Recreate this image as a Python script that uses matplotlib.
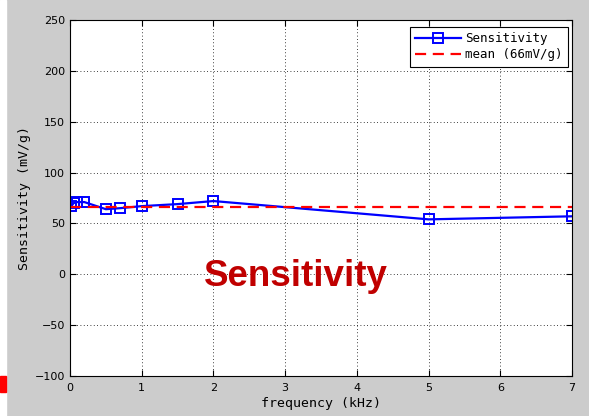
import matplotlib
matplotlib.use('Agg')
import matplotlib.pyplot as plt
from matplotlib.patches import Rectangle
import numpy as np

# data
freq = [0.02, 0.05, 0.1, 0.2, 0.5, 0.7, 1.0, 1.5, 2.0, 5.0, 7.0]
sens = [67, 70, 71, 71, 64, 65, 67, 69, 72, 54, 57]
mean_val = 66
x_ticks = [0, 1, 2, 3, 4, 5, 6, 7]
y_ticks = [-100, -50, 0, 50, 100, 150, 200, 250]

fig = plt.figure(figsize=(5.89, 4.16), dpi=100, facecolor='#cccccc')
ax = fig.add_axes([70/589, 1-376/416, (572-70)/589, (376-20)/416])

ax.plot(freq, sens, color='blue', lw=1.6, marker='s', markersize=7,
        markerfacecolor='none', markeredgecolor='blue', markeredgewidth=1.4,
        label='Sensitivity')
ax.plot([0, 7], [mean_val, mean_val], color='red', lw=1.6, ls=(0, (5, 3)),
        label='mean (%dmV/g)' % mean_val)

ax.set_xlim(0, 7)
ax.set_ylim(-100, 250)
ax.set_xticks(x_ticks)
ax.set_yticks(y_ticks)
ax.tick_params(direction='in', top=True, right=True, length=4, labelsize=8)
ax.tick_params(axis='x', pad=5)
ax.grid(True, color='black', ls=(0, (1, 3)), lw=0.6)
for s in ax.spines.values():
    s.set_linewidth(0.8)

mono = 'DejaVu Sans Mono'
ax.set_xlabel('frequency (kHz)', family=mono, fontsize=9.5, labelpad=3)
ax.set_ylabel('Sensitivity (mV/g)', family=mono, fontsize=9.5, labelpad=3)

leg = ax.legend(loc='upper right', bbox_to_anchor=(0.992, 0.980),
                prop={'family': mono, 'size': 9},
                fancybox=False, framealpha=1, edgecolor='black',
                borderaxespad=0, borderpad=0.42, labelspacing=0.25,
                handlelength=3.7, handletextpad=0.3)
leg.get_frame().set_linewidth(0.8)

fig.text(295.5/589, 1-286/416, 'Sensitivity', color='#c00000', fontsize=26.5,
         fontweight='bold', family='Liberation Sans', ha='center', va='baseline')

# white strip and red block on the left edge
fig.patches.append(Rectangle((0, 0), 6/589, 1, transform=fig.transFigure,
                             color='white', zorder=0))
fig.patches.append(Rectangle((0, 1-392/416), 6/589, 16/416,
                             transform=fig.transFigure, color='red', zorder=1))

fig.savefig('out.png', dpi=100, facecolor=fig.get_facecolor())
